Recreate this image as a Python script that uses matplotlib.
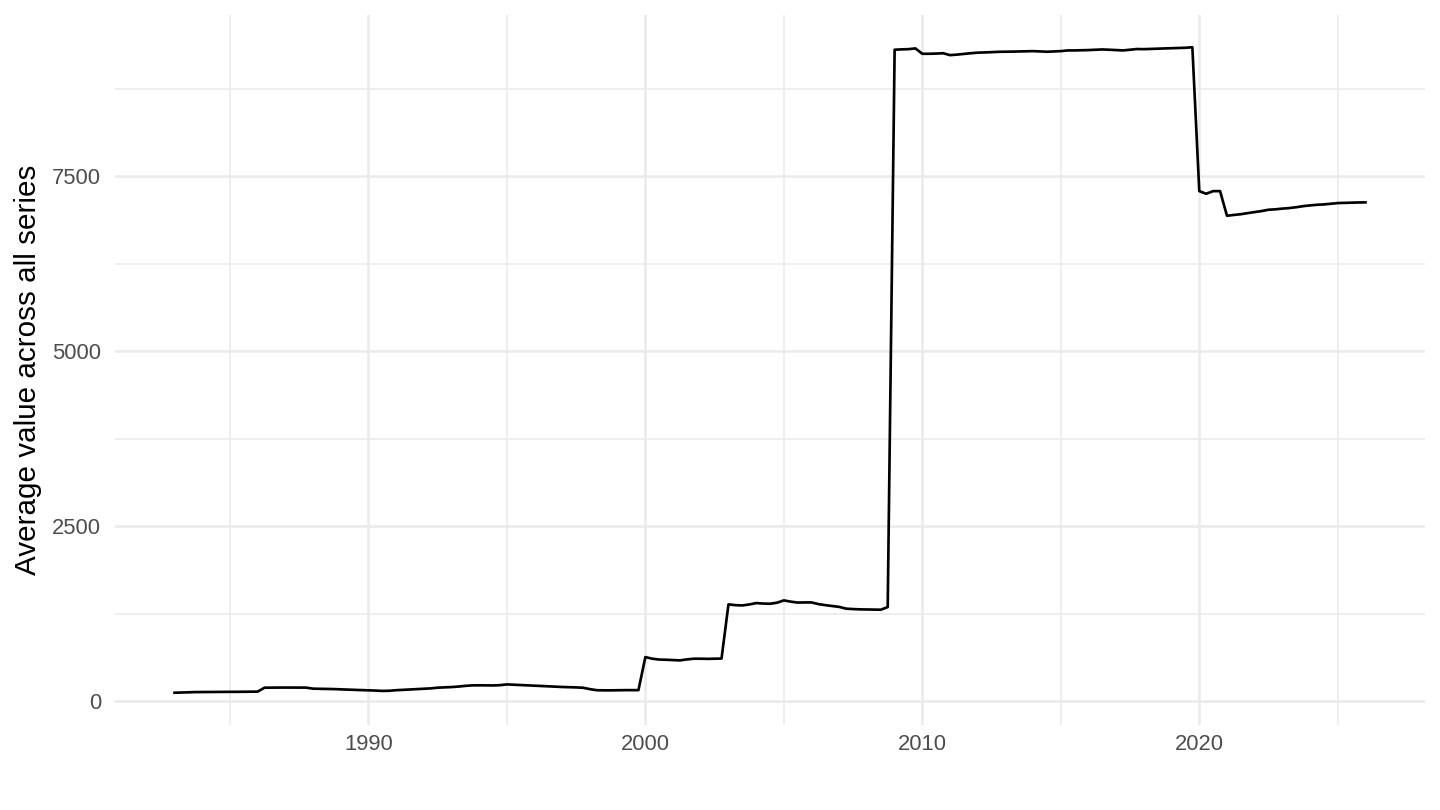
import matplotlib
matplotlib.use("Agg")
import matplotlib.pyplot as plt
import numpy as np

start_year = 1983
# Quarterly values, one list per year (Q1..Q4), final entry 2026 Q1
v1983 = [124, 127, 130, 133]
v1984 = [134, 135, 135, 136]
v1985 = [136, 137, 138, 138]
v1986 = [140, 196, 197, 198]
v1987 = [198, 198, 197, 197]
v1988 = [182, 180, 178, 176]
v1989 = [172, 168, 165, 162]
v1990 = [158, 155, 150, 152]
v1991 = [160, 165, 170, 175]
v1992 = [180, 186, 196, 200]
v1993 = [205, 212, 222, 229]
v1994 = [230, 229, 228, 232]
v1995 = [243, 238, 233, 229]
v1996 = [225, 220, 215, 210]
v1997 = [206, 203, 200, 195]
v1998 = [175, 160, 158, 158]
v1999 = [160, 161, 161, 161]
v2000 = [633, 610, 598, 595]
v2001 = [590, 586, 600, 610]
v2002 = [610, 608, 610, 612]
v2003 = [1386, 1375, 1371, 1385]
v2004 = [1405, 1398, 1395, 1410]
v2005 = [1443, 1425, 1412, 1414]
v2006 = [1414, 1390, 1375, 1362]
v2007 = [1350, 1325, 1319, 1315]
v2008 = [1313, 1312, 1310, 1348]
v2009 = [9310, 9315, 9318, 9329]
v2010 = [9252, 9252, 9255, 9260]
v2011 = [9233, 9240, 9250, 9260]
v2012 = [9268, 9271, 9275, 9280]
v2013 = [9281, 9283, 9285, 9288]
v2014 = [9290, 9285, 9281, 9285]
v2015 = [9290, 9300, 9300, 9302]
v2016 = [9305, 9310, 9314, 9310]
v2017 = [9305, 9300, 9310, 9320]
v2018 = [9318, 9322, 9325, 9328]
v2019 = [9330, 9334, 9338, 9345]
v2020 = [7290, 7252, 7290, 7290]
v2021 = [6938, 6950, 6960, 6976]
v2022 = [6990, 7005, 7024, 7030]
v2023 = [7040, 7048, 7060, 7075]
v2024 = [7086, 7095, 7100, 7110]
v2025 = [7119, 7122, 7125, 7128]
v2026 = [7129]

yearly = [v1983, v1984, v1985, v1986, v1987, v1988, v1989, v1990, v1991,
          v1992, v1993, v1994, v1995, v1996, v1997, v1998, v1999, v2000,
          v2001, v2002, v2003, v2004, v2005, v2006, v2007, v2008, v2009,
          v2010, v2011, v2012, v2013, v2014, v2015, v2016, v2017, v2018,
          v2019, v2020, v2021, v2022, v2023, v2024, v2025, v2026]
values = [v for yr in yearly for v in yr]
dates = [start_year + i * 0.25 for i in range(len(values))]

y_label = "Average value across all series"
x_major = [1990, 2000, 2010, 2020]
x_minor = [1985, 1995, 2005, 2015, 2025]
y_major = [0, 2500, 5000, 7500]
y_minor = [1250, 3750, 6250, 8750]

plt.rcParams['font.family'] = ['Liberation Sans', 'DejaVu Sans']

fig = plt.figure(figsize=(10, 5.625), dpi=144)
ax = fig.add_axes([115/1440, 1 - 725/810, (1425-115)/1440, (725-15)/810])

grid = "#EBEBEB"
for xv in x_minor:
    ax.axvline(xv, color=grid, lw=0.8, zorder=0)
for yv in y_minor:
    ax.axhline(yv, color=grid, lw=0.8, zorder=0)
for xv in x_major:
    ax.axvline(xv, color=grid, lw=1.34, zorder=0)
for yv in y_major:
    ax.axhline(yv, color=grid, lw=1.34, zorder=0)

ax.plot(dates, values, color="black", lw=1.34, zorder=3)

xr = dates[-1] - dates[0]
ax.set_xlim(dates[0] - 0.05 * xr, dates[-1] + 0.05 * xr)
yr = max(values) - min(values)
ax.set_ylim(min(values) - 0.05 * yr, max(values) + 0.05 * yr)

ax.set_xticks(x_major)
ax.set_xticklabels([str(x) for x in x_major])
ax.set_yticks(y_major)
ax.set_yticklabels([str(y) for y in y_major])
ax.tick_params(axis='both', length=0, labelsize=11, labelcolor="#4D4D4D")
ax.tick_params(axis='y', pad=7)
ax.tick_params(axis='x', pad=4.5)
for s in ax.spines.values():
    s.set_visible(False)

fig.text(28/1440, 1 - 370/810, y_label, rotation=90, ha='center', va='center',
         fontsize=14.8, color="black")

fig.savefig("out.png", dpi=144, facecolor="white")
